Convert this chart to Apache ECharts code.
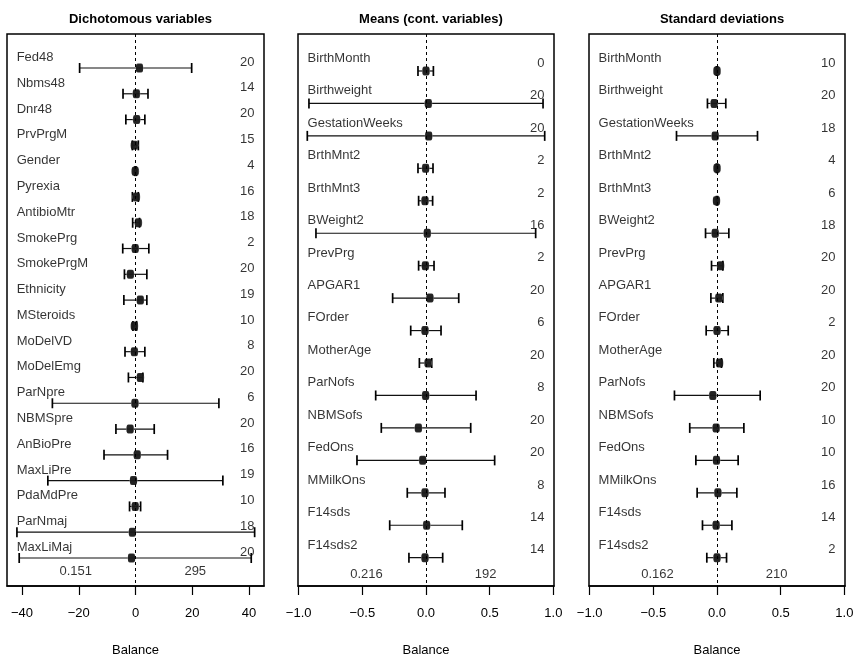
<!DOCTYPE html>
<html>
<head>
<meta charset="utf-8">
<script src="https://cdn.jsdelivr.net/npm/echarts@6/dist/echarts.min.js"></script>
<style>html,body{margin:0;padding:0;background:#fff}#c{width:858px;height:658px}</style>
</head>
<body>
<div id="c"></div>
<script>
// ---------- Data ----------
const dichLabels = ['Fed48','Nbms48','Dnr48','PrvPrgM','Gender','Pyrexia','AntibioMtr','SmokePrg','SmokePrgM','Ethnicity','MSteroids','MoDelVD','MoDelEmg','ParNpre','NBMSpre','AnBioPre','MaxLiPre','PdaMdPre','ParNmaj','MaxLiMaj'];
const dichEst = [1.4, 0.3, 0.4, -0.4, -0.1, 0.3, 1.0, -0.1, -1.8, 1.7, -0.4, -0.4, 1.7, -0.2, -1.9, 0.6, -0.7, -0.1, -1.1, -1.4];
const dichLo  = [-19.7, -4.4, -3.4, -1.1, -0.3, -1.1, -1.0, -4.5, -3.9, -4.1, -0.9, -3.7, -2.5, -29.3, -6.9, -11.1, -30.9, -2.1, -41.8, -41.0];
const dichHi  = [19.8, 4.4, 3.3, 1.0, 0.3, 1.0, 1.4, 4.7, 4.0, 4.0, 0.4, 3.3, 2.6, 29.4, 6.6, 11.3, 30.8, 1.8, 42.0, 40.8];
const dichN   = [20, 14, 20, 15, 4, 16, 18, 2, 20, 19, 10, 8, 20, 6, 20, 16, 19, 10, 18, 20];
const dichSummary = ['0.151', '295'];

const contLabels = ['BirthMonth','Birthweight','GestationWeeks','BrthMnt2','BrthMnt3','BWeight2','PrevPrg','APGAR1','FOrder','MotherAge','ParNofs','NBMSofs','FedOns','MMilkOns','F14sds','F14sds2'];

const meanEst = [0.0, 0.018, 0.021, -0.003, -0.008, 0.01, -0.005, 0.031, -0.008, 0.016, -0.003, -0.06, -0.026, -0.008, 0.005, -0.008];
const meanLo  = [-0.063, -0.919, -0.932, -0.063, -0.058, -0.864, -0.058, -0.262, -0.12, -0.052, -0.395, -0.351, -0.542, -0.147, -0.285, -0.134];
const meanHi  = [0.058, 0.919, 0.932, 0.055, 0.052, 0.861, 0.063, 0.257, 0.118, 0.045, 0.393, 0.351, 0.539, 0.149, 0.285, 0.131];
const meanN   = [0, 20, 20, 2, 2, 16, 2, 20, 6, 20, 8, 20, 20, 8, 14, 14];
const meanSummary = ['0.216', '192'];

const sdEst = [0.0, -0.022, -0.014, 0.0, -0.004, -0.014, 0.028, 0.014, 0.0, 0.02, -0.033, -0.007, -0.004, 0.007, -0.007, 0.0];
const sdLo  = [-0.005, -0.075, -0.318, -0.005, -0.005, -0.09, -0.043, -0.048, -0.085, -0.025, -0.334, -0.214, -0.166, -0.156, -0.114, -0.08];
const sdHi  = [0.005, 0.069, 0.318, 0.005, 0.005, 0.093, 0.046, 0.046, 0.088, 0.035, 0.339, 0.211, 0.166, 0.156, 0.117, 0.075];
const sdN   = [10, 20, 18, 4, 6, 18, 20, 20, 2, 20, 20, 10, 10, 16, 14, 2];
const sdSummary = ['0.162', '210'];

const titles = ['Dichotomous variables', 'Means (cont. variables)', 'Standard deviations'];
const tick1 = [-40, -20, 0, 20, 40];
const tick2 = [-1, -0.5, 0, 0.5, 1];
const xName = 'Balance';

// ---------- Layout ----------
const FONT = 'Liberation Sans, Arial, Helvetica, sans-serif';
const panels = [
  {labels: dichLabels, est: dichEst, lo: dichLo, hi: dichHi, n: dichN, summary: dichSummary, ticks: tick1, dec: 0,
   left: 7, width: 257, xmax: 45.3, ymin: -0.318, ymax: 21.086, labOff: 0.41, numOff: 0.23, sumOff: 0.54},
  {labels: contLabels, est: meanEst, lo: meanLo, hi: meanHi, n: meanN, summary: meanSummary, ticks: tick2, dec: 1,
   left: 298, width: 256, xmax: 1.005, ymin: -0.14, ymax: 16.872, labOff: 0.39, numOff: 0.24, sumOff: 0.51},
  {labels: contLabels, est: sdEst, lo: sdLo, hi: sdHi, n: sdN, summary: sdSummary, ticks: tick2, dec: 1,
   left: 589, width: 256, xmax: 1.005, ymin: -0.14, ymax: 16.872, labOff: 0.39, numOff: 0.24, sumOff: 0.51}
];
const TOP = 34, HEIGHT = 552;

const grid = [], xAxis = [], yAxis = [], series = [], title = [];
panels.forEach((p, k) => {
  grid.push({left: p.left, top: TOP, width: p.width, height: HEIGHT, show: true, containLabel: false,
    outerBoundsMode: 'none',
    borderColor: '#000', borderWidth: 1.5, backgroundColor: 'transparent'});
  title.push({text: titles[k], left: p.left + p.width / 2, top: 8, textAlign: 'center',
    textStyle: {fontFamily: FONT, fontSize: 13, fontWeight: 'bold', color: '#000'}});
  xAxis.push({type: 'value', gridIndex: k, min: -p.xmax, max: p.xmax,
    name: xName, nameLocation: 'middle', nameGap: 58,
    nameTextStyle: {fontFamily: FONT, fontSize: 13, color: '#000'},
    splitLine: {show: false},
    axisLine: {show: true, onZero: false, lineStyle: {color: '#000', width: 1.5}},
    axisTick: {show: true, inside: false, length: 9, customValues: p.ticks, lineStyle: {color: '#000', width: 1.2}},
    axisLabel: {show: true, margin: 21, customValues: p.ticks, fontFamily: FONT, fontSize: 13, color: '#000',
      formatter: v => (v < 0 ? '\u2212' : '') + Math.abs(v).toFixed(p.dec)}
  });
  yAxis.push({type: 'value', gridIndex: k, inverse: true, min: p.ymin, max: p.ymax, show: false, splitLine: {show: false}});

  const rows = p.labels.map((_, i) => i + 1);
  // error bars
  series.push({type: 'custom', xAxisIndex: k, yAxisIndex: k, silent: true, z: 2,
    data: rows.map((r, i) => [p.lo[i], p.hi[i], r]),
    renderItem: (params, api) => {
      const a = api.coord([api.value(0), api.value(2)]);
      const b = api.coord([api.value(1), api.value(2)]);
      const h = 5;
      const st = {stroke: '#111', lineWidth: 1.2};
      return {type: 'group', children: [
        {type: 'line', shape: {x1: a[0], y1: a[1], x2: b[0], y2: b[1]}, style: st},
        {type: 'line', shape: {x1: a[0], y1: a[1] - h, x2: a[0], y2: a[1] + h}, style: {stroke: '#000', lineWidth: 1.7}},
        {type: 'line', shape: {x1: b[0], y1: b[1] - h, x2: b[0], y2: b[1] + h}, style: {stroke: '#000', lineWidth: 1.7}}
      ]};
    }
  });
  // grey halo behind point
  series.push({type: 'scatter', xAxisIndex: k, yAxisIndex: k, silent: true, z: 3,
    symbol: 'circle', symbolSize: 8, itemStyle: {color: '#9a9a9a'},
    data: rows.map((r, i) => [p.est[i], r])
  });
  // points
  series.push({type: 'scatter', xAxisIndex: k, yAxisIndex: k, silent: true, z: 4,
    symbol: 'roundRect', symbolSize: [7, 9], itemStyle: {color: '#000'},
    data: rows.map((r, i) => [p.est[i], r]),
    markLine: {silent: true, symbol: 'none', label: {show: false},
      lineStyle: {color: '#000', type: [3, 3], width: 1}, data: [{xAxis: 0}]}
  });
  const textSeries = (data, align) => ({type: 'scatter', xAxisIndex: k, yAxisIndex: k, silent: true, z: 5,
    symbolSize: 0, data: data,
    label: {show: true, position: 'inside', align: align, verticalAlign: 'middle',
      fontFamily: FONT, fontSize: 13, color: '#000', formatter: prm => prm.value[2]}
  });
  series.push(textSeries(rows.map((r, i) => [-0.925 * p.xmax, r - p.labOff, p.labels[i]]), 'left'));
  series.push(textSeries(rows.map((r, i) => [0.925 * p.xmax, r - p.numOff, String(p.n[i])]), 'right'));
  const last = rows.length + p.sumOff;
  series.push(textSeries([[-0.465 * p.xmax, last, p.summary[0]], [0.465 * p.xmax, last, p.summary[1]]], 'center'));
});

const chart = echarts.init(document.getElementById('c'), null, {renderer: 'canvas'});
chart.setOption({animation: false, backgroundColor: '#fff', title, grid, xAxis, yAxis, series});
</script>
</body>
</html>
